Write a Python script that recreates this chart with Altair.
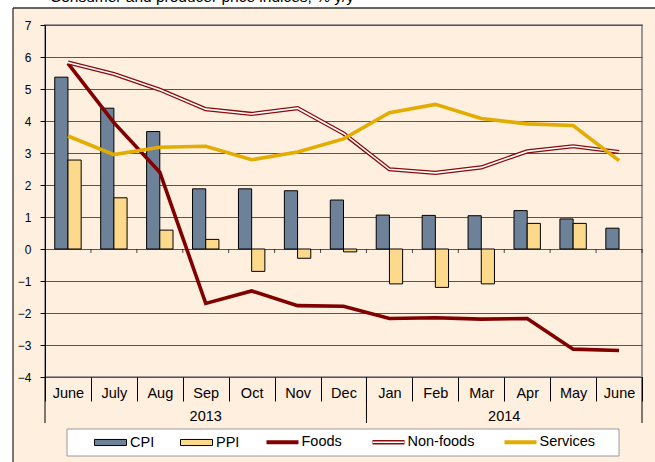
import altair as alt
import pandas as pd

# ---------------- data ----------------
months = ["June", "July", "Aug", "Sep", "Oct", "Nov", "Dec",
          "Jan", "Feb", "Mar", "Apr", "May", "June"]
month_year = ["2013"] * 7 + ["2014"] * 6
years = ["2013", "2014"]

cpi = [5.37, 4.40, 3.67, 1.88, 1.88, 1.82, 1.53, 1.06, 1.05, 1.04, 1.20, 0.94, 0.65]
ppi = [2.78, 1.60, 0.59, 0.30, -0.70, -0.29, -0.09, -1.09, -1.20, -1.09, 0.80, 0.80, None]
foods = [5.80, 3.95, 2.40, -1.70, -1.31, -1.77, -1.79, -2.17, -2.15, -2.19, -2.17, -3.13, -3.17]
nonfoods = [5.83, 5.47, 4.98, 4.37, 4.22, 4.40, 3.61, 2.49, 2.38, 2.55, 3.05, 3.21, 3.03]
services = [3.53, 2.95, 3.18, 3.21, 2.79, 3.03, 3.44, 4.26, 4.52, 4.08, 3.91, 3.86, 2.76]

bar_series = ["CPI", "PPI"]
line_series = ["Foods", "Non-foods", "Services"]
y_ticks = list(range(-4, 8))
title_text = "Consumer and producer price indices, % y/y"

# ---------------- styles ----------------
FONT = "Liberation Sans"
PEACH = "#FFEFDF"
bar_colors = ["#6D8299", "#FCD98B"]
line_colors = ["#800000", "#8B0A0A", "#E2AC00"]

keys = [f"{m} {y}" for m, y in zip(months, month_year)]

bar_rows = []
for i, k in enumerate(keys):
    for name, vals in zip(bar_series, [cpi, ppi]):
        if vals[i] is not None:
            bar_rows.append({"key": k, "Index": name, "value": vals[i]})
bars_df = pd.DataFrame(bar_rows)

line_rows = []
for name, vals in zip(line_series, [foods, nonfoods, services]):
    for i, k in enumerate(keys):
        line_rows.append({"key": k, "Series": name, "value": vals[i], "idx": i})
lines_df = pd.DataFrame(line_rows)

keys_df = pd.DataFrame({"key": keys})
one = pd.DataFrame({"a": [0]})

xscale = alt.Scale(domain=keys, paddingInner=0, paddingOuter=0)
yscale = alt.Scale(domain=[-4, 7], nice=False)

x_axis = alt.Axis(title=None, labelExpr="split(datum.label, ' ')[0]",
                  tickBand="extent", tickSize=24, tickColor="black", tickWidth=1,
                  domain=False, grid=False, labelFontSize=14.5, labelFont=FONT,
                  labelColor="black", labelBaseline="alphabetic", labelPadding=-4,
                  labelAngle=0)
y_axis = alt.Axis(title=None, values=y_ticks, tickSize=5, tickColor="black",
                  domainColor="black", domainWidth=1, labelFontSize=12, labelFont=FONT,
                  labelColor="black", labelPadding=9, gridColor="#555555", gridWidth=1,
                  format="d")


def xenc(bp=None):
    if bp is None:
        return alt.X("key:N", scale=xscale, axis=x_axis, title=None)
    return alt.X("key:N", scale=xscale, axis=x_axis, title=None, bandPosition=bp)


Y = alt.Y("value:Q", scale=yscale, axis=y_axis, title=None)

base = alt.Chart(one)

# frame decorations outside the plot
top_strip = base.mark_rect(fill="white").encode(
    x=alt.value(-45), x2=alt.value(620), y=alt.value(-30), y2=alt.value(-17))
left_strip = base.mark_rect(fill="white").encode(
    x=alt.value(-45), x2=alt.value(-32), y=alt.value(-30), y2=alt.value(460))
top_border = base.mark_rule(color="#333333", strokeWidth=1.3).encode(
    x=alt.value(-32), x2=alt.value(620), y=alt.value(-17))
left_border = base.mark_rule(color="#333333", strokeWidth=1.3).encode(
    x=alt.value(-32), y=alt.value(-17), y2=alt.value(460))
title = base.mark_text(text=title_text, align="left", baseline="alphabetic",
                       font=FONT, fontSize=15.5, color="black").encode(
    x=alt.value(5), y=alt.value(-22.8))
legend_box = base.mark_rect(fill="white", stroke="#9a9a9a", strokeWidth=1).encode(
    x=alt.value(22), x2=alt.value(574), y=alt.value(404), y2=alt.value(431))

bar_path = "M-1,-0.19L1,-0.19L1,0.19L-1,0.19Z"
solid_line_path = "M-1,-0.125L1,-0.125L1,0.125L-1,0.125Z"
double_line_path = ("M-1,-0.14L1,-0.14L1,0.14L-1,0.14Z"
                    "M-0.97,-0.045L-0.97,0.045L0.97,0.045L0.97,-0.045Z")

LEG_Y = 401

bar_legend = alt.Legend(title=None, orient="none", legendX=49, legendY=LEG_Y,
                        direction="horizontal", symbolType=bar_path, symbolSize=1024,
                        symbolStrokeColor="black", symbolStrokeWidth=1,
                        labelFont=FONT, labelFontSize=14.5, labelColor="black",
                        labelOffset=3, columnPadding=23, padding=0, offset=0)

bars = alt.Chart(bars_df).mark_bar(stroke="black", strokeWidth=1).encode(
    x=xenc(),
    y=Y,
    xOffset=alt.XOffset("Index:N", scale=alt.Scale(domain=bar_series, paddingInner=0,
                                                    paddingOuter=0.74)),
    fill=alt.Fill("Index:N", scale=alt.Scale(domain=bar_series, range=bar_colors),
                  legend=bar_legend),
)

zero_ticks = alt.Chart(keys_df).mark_tick(orient="vertical", size=4, thickness=1,
                                          color="black", yOffset=2).encode(
    x=xenc(1),
    y=alt.Y(datum=0, scale=yscale, axis=y_axis, title=None),
)

stroke_scale = alt.Scale(domain=line_series, range=line_colors)

foods_line = alt.Chart(lines_df).transform_filter(alt.datum.Series == "Foods").mark_line(
    strokeWidth=3.6).encode(
    x=xenc(), y=Y, order="idx:Q",
    stroke=alt.Stroke("Series:N", scale=stroke_scale, legend=None))
nonfoods_line = alt.Chart(lines_df).transform_filter(alt.datum.Series == "Non-foods").mark_line(
    strokeWidth=4.2).encode(
    x=xenc(), y=Y, order="idx:Q",
    stroke=alt.Stroke("Series:N", scale=stroke_scale, legend=None))
nonfoods_inner = alt.Chart(lines_df).transform_filter(alt.datum.Series == "Non-foods").mark_line(
    strokeWidth=1.6, color="white").encode(x=xenc(), y=Y, order="idx:Q")
services_line = alt.Chart(lines_df).transform_filter(alt.datum.Series == "Services").mark_line(
    strokeWidth=3.6).encode(
    x=xenc(), y=Y, order="idx:Q",
    stroke=alt.Stroke("Series:N", scale=stroke_scale, legend=None))

line_legend = alt.Legend(title=None, orient="none", legendX=221.5, legendY=LEG_Y,
                         direction="horizontal", symbolSize=1024, symbolStrokeWidth=0,
                         symbolOpacity=1,
                         labelFont=FONT, labelFontSize=14.5, labelColor="black",
                         labelOffset=3, columnPadding=30, padding=0, offset=0)
legend_points = alt.Chart(lines_df).mark_point(filled=True, size=0).encode(
    x=xenc(), y=Y,
    color=alt.Color("Series:N", scale=alt.Scale(domain=line_series, range=line_colors),
                    legend=line_legend),
    shape=alt.Shape("Series:N", scale=alt.Scale(domain=line_series,
                                                range=[solid_line_path, double_line_path,
                                                       solid_line_path]),
                    legend=line_legend),
)

# long separators below the axis (year boundaries and right edge), year labels
year_starts = []
year_layers = []
for yr in years:
    idxs = [i for i, y in enumerate(month_year) if y == yr]
    year_starts.append(keys[idxs[0]])
    n = len(idxs)
    mid_key = keys[idxs[0] + n // 2]
    bp = 0.5 if n % 2 == 1 else 0
    year_layers.append(
        alt.Chart(pd.DataFrame({"key": [mid_key], "year": [yr]})).mark_text(
            font=FONT, fontSize=14.5, color="black", baseline="alphabetic", align="center"
        ).encode(x=xenc(bp), y=alt.value(395.7), text="year:N"))

sep_start = alt.Chart(pd.DataFrame({"key": year_starts})).mark_rule(
    color="black", strokeWidth=1).encode(
    x=xenc(0), y=alt.value(352), y2=alt.value(398))
sep_end = alt.Chart(pd.DataFrame({"key": [keys[-1]]})).mark_rule(
    color="black", strokeWidth=1).encode(
    x=xenc(1), y=alt.value(352), y2=alt.value(398))

chart = alt.layer(
    top_strip, left_strip, top_border, left_border, title, legend_box,
    bars, zero_ticks, foods_line, nonfoods_line, nonfoods_inner, services_line,
    legend_points, sep_start, sep_end, *year_layers
).resolve_scale(
    color="independent", fill="independent", stroke="independent", shape="independent"
).properties(
    width=597, height=352,
    padding={"left": 45, "top": 25, "right": 13, "bottom": 85},
    autosize=alt.AutoSizeParams(type="none"),
).configure(
    background=PEACH,
).configure_view(
    fill=PEACH, stroke="#999999", strokeWidth=2,
)

chart.save("out.html", embed_options={"renderer": "svg", "actions": False})
